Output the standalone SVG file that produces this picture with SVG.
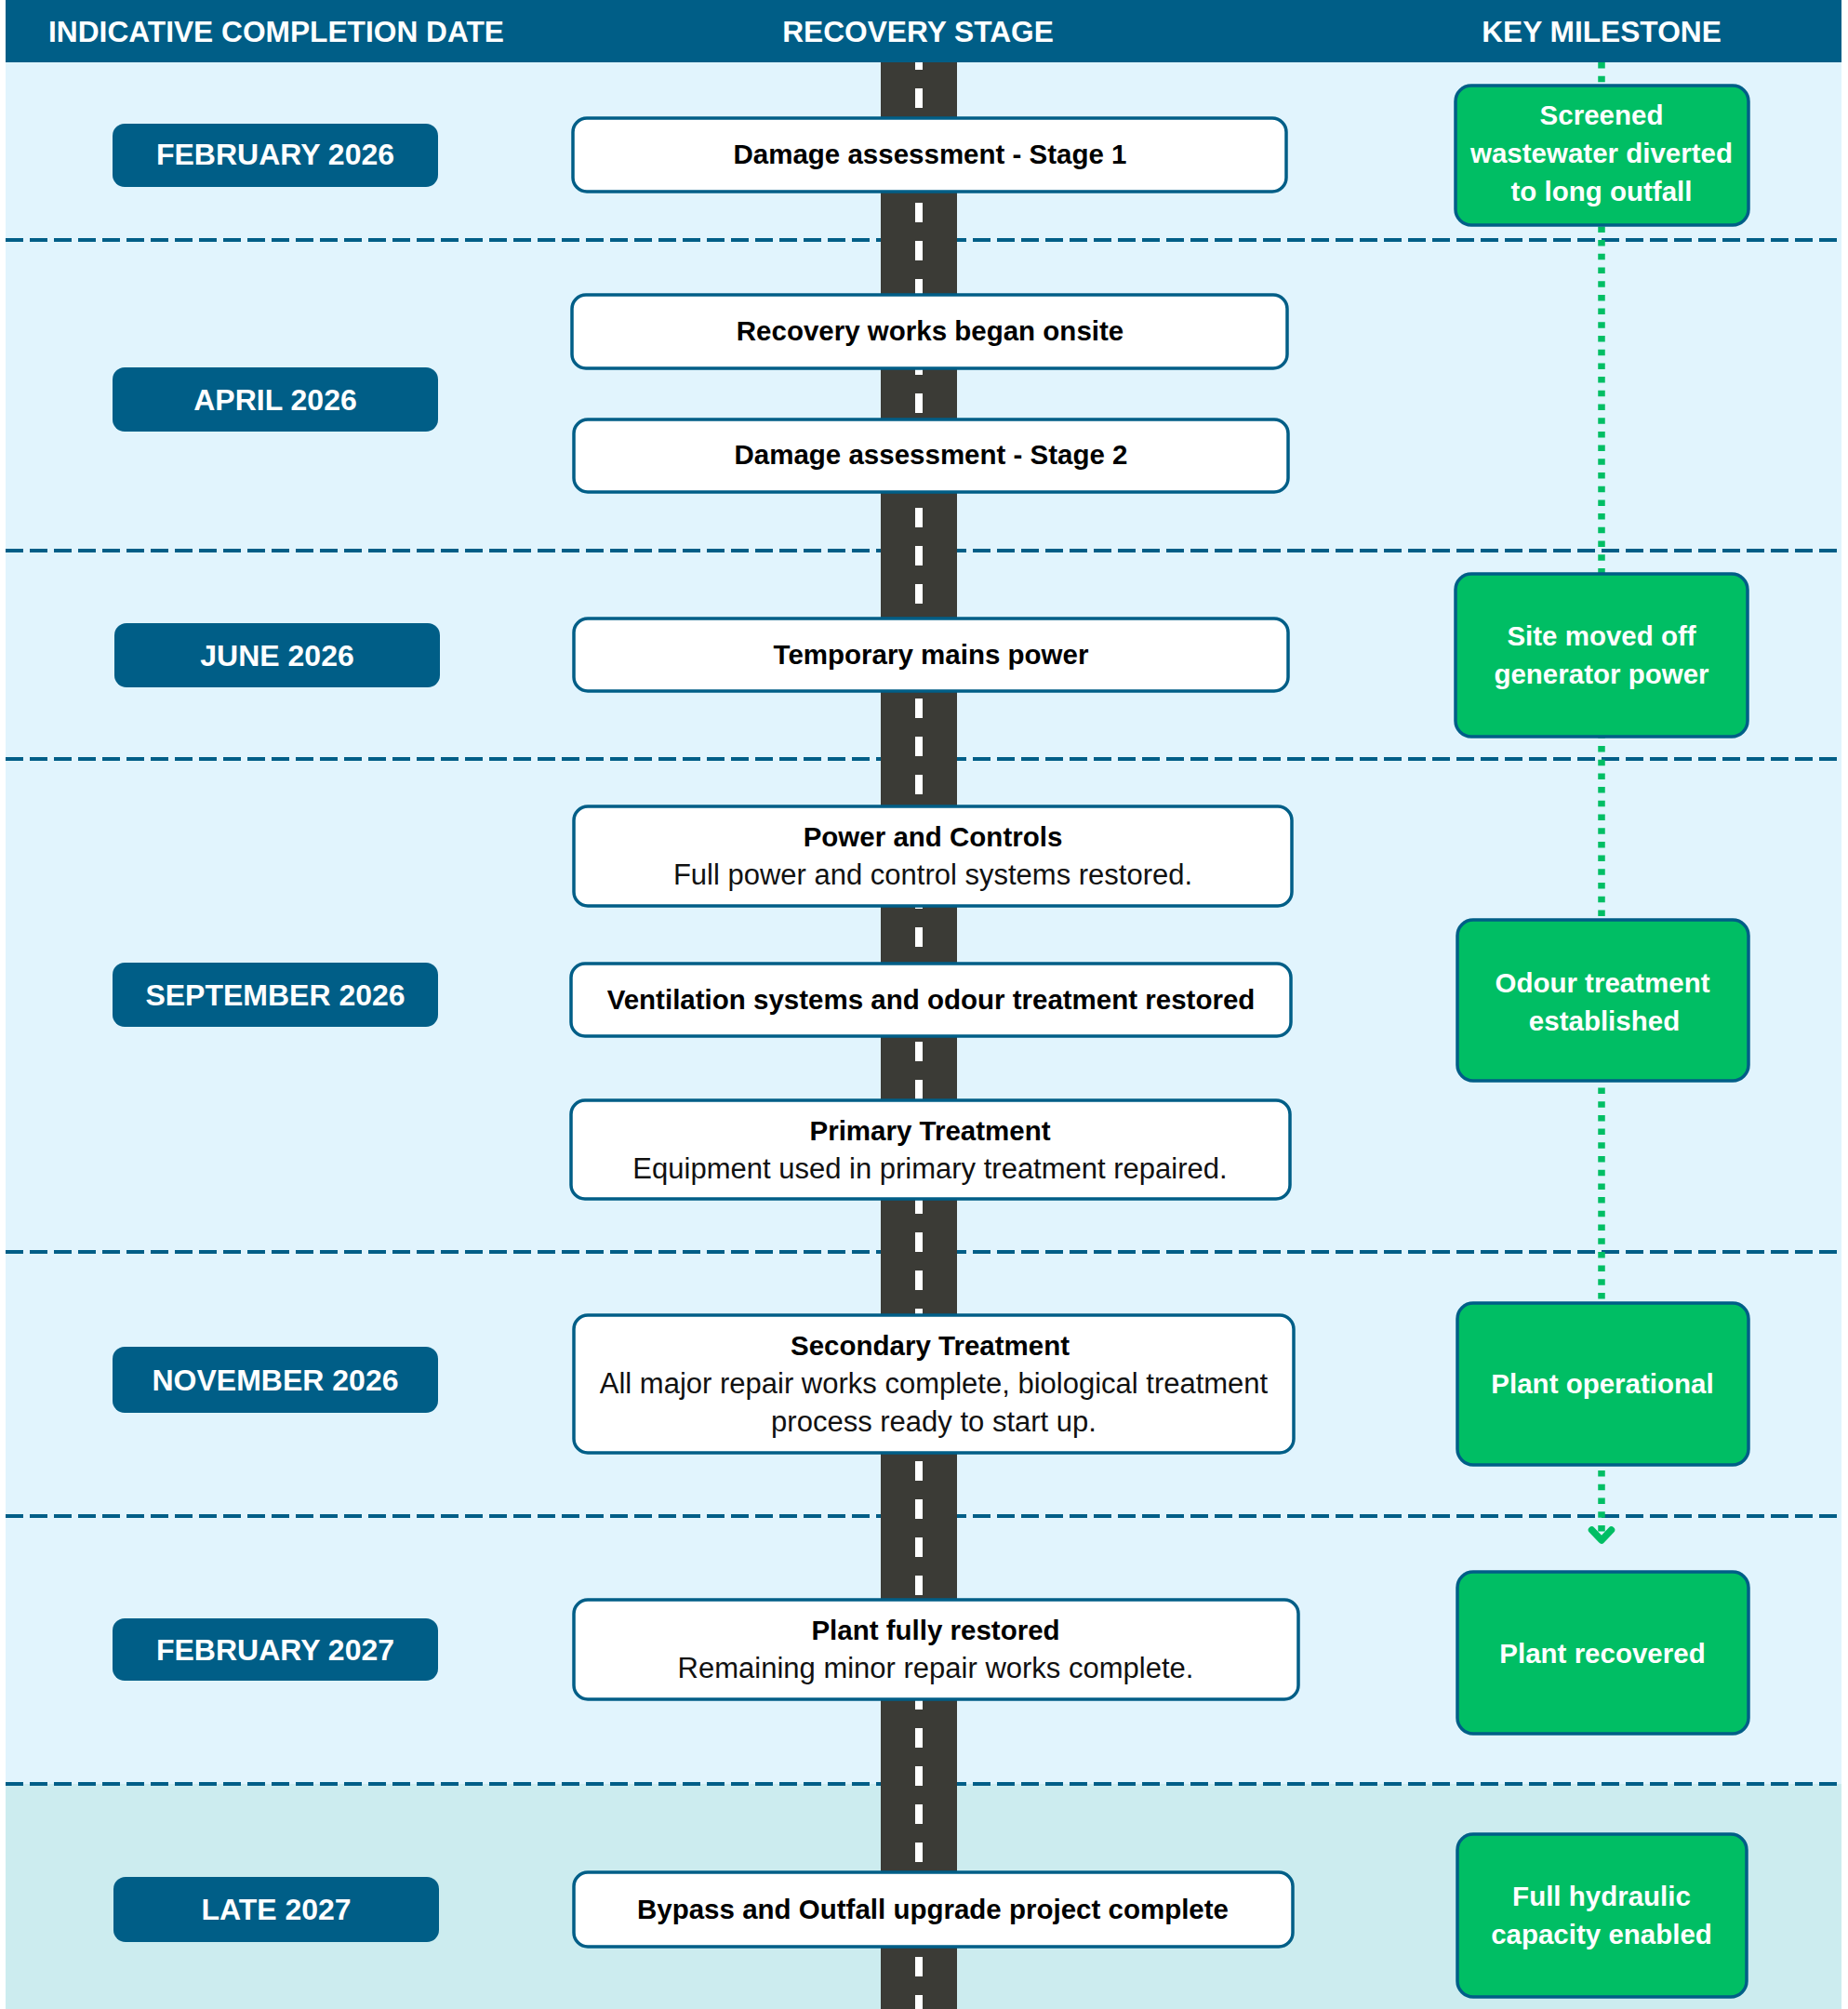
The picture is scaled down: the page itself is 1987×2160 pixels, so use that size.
<svg xmlns="http://www.w3.org/2000/svg" width="1987" height="2160" viewBox="0 0 1987 2160">
<style>
text{font-family:"Liberation Sans",Arial,sans-serif;text-anchor:middle}
.hdr{font-size:31.7px;font-weight:bold;fill:#ffffff}
.pill{fill:#005E87}
.pillt{font-size:32px;font-weight:bold;fill:#ffffff}
.stage{fill:#ffffff;stroke:#005E87;stroke-width:3.5}
.st{font-size:29.5px;font-weight:bold;fill:#000000}
.sr{font-size:31px;fill:#111111}
.ms{fill:#00BE64;stroke:#005E87;stroke-width:3.5}
.mt{font-size:29.5px;font-weight:bold;fill:#ffffff}
.sep{stroke:#005E87;stroke-width:4;stroke-dasharray:19 7}
.dot{stroke:#00BE64;stroke-width:7.5;fill:none}
</style>
<rect x="0" y="0" width="1987" height="2160" fill="#ffffff"/>
<rect x="6" y="0" width="1974" height="1918" fill="#E1F4FD"/>
<rect x="6" y="1918" width="1974" height="242" fill="#CCECEF"/>
<g id="header">
<rect x="6" y="0" width="1974" height="67" fill="#005E87"/>
<text class="hdr" x="297" y="45">INDICATIVE COMPLETION DATE</text>
<text class="hdr" x="987" y="45">RECOVERY STAGE</text>
<text class="hdr" x="1722" y="45">KEY MILESTONE</text>
</g>
<g id="separators">
<line class="sep" x1="6" y1="258" x2="1980" y2="258"/>
<line class="sep" x1="6" y1="592" x2="1980" y2="592"/>
<line class="sep" x1="6" y1="816" x2="1980" y2="816"/>
<line class="sep" x1="6" y1="1346" x2="1980" y2="1346"/>
<line class="sep" x1="6" y1="1630" x2="1980" y2="1630"/>
<line class="sep" x1="6" y1="1918" x2="1980" y2="1918"/>
</g>
<g id="road">
<rect x="947" y="67" width="82" height="2093" fill="#3B3B36"/>
<line x1="988" y1="67" x2="988" y2="2160" stroke="#ffffff" stroke-width="8" stroke-dasharray="21 20" stroke-dashoffset="13"/>
</g>
<g id="connectors">
<line class="dot" x1="1722" y1="67" x2="1722" y2="1647" stroke-dasharray="6.5 8.2"/>
<polyline class="dot" points="1711.5,1645 1722,1656 1732.5,1645" stroke-width="7" stroke-linecap="round" stroke-linejoin="round"/>
</g>
<g id="date-feb-2026"><rect class="pill" x="121" y="133" width="350" height="68" rx="13"/><text class="pillt" x="296" y="177">FEBRUARY 2026</text></g>
<g id="date-apr-2026"><rect class="pill" x="121" y="395" width="350" height="69" rx="13"/><text class="pillt" x="296" y="441">APRIL 2026</text></g>
<g id="date-jun-2026"><rect class="pill" x="123" y="670" width="350" height="69" rx="13"/><text class="pillt" x="298" y="716">JUNE 2026</text></g>
<g id="date-sep-2026"><rect class="pill" x="121" y="1035" width="350" height="69" rx="13"/><text class="pillt" x="296" y="1081">SEPTEMBER 2026</text></g>
<g id="date-nov-2026"><rect class="pill" x="121" y="1448" width="350" height="71" rx="13"/><text class="pillt" x="296" y="1495">NOVEMBER 2026</text></g>
<g id="date-feb-2027"><rect class="pill" x="121" y="1740" width="350" height="67" rx="13"/><text class="pillt" x="296" y="1785">FEBRUARY 2027</text></g>
<g id="date-late-2027"><rect class="pill" x="122" y="2018" width="350" height="70" rx="13"/><text class="pillt" x="297" y="2064">LATE 2027</text></g>
<g id="stage-damage-1"><rect class="stage" x="616" y="127" width="767" height="79" rx="15"/><text class="st" x="1000" y="176">Damage assessment - Stage 1</text></g>
<g id="stage-recovery-works"><rect class="stage" x="615" y="317" width="769" height="79" rx="15"/><text class="st" x="1000" y="366">Recovery works began onsite</text></g>
<g id="stage-damage-2"><rect class="stage" x="617" y="451" width="768" height="78" rx="15"/><text class="st" x="1001" y="499">Damage assessment - Stage 2</text></g>
<g id="stage-temp-power"><rect class="stage" x="617" y="665" width="768" height="78" rx="15"/><text class="st" x="1001" y="714">Temporary mains power</text></g>
<g id="stage-power-controls"><rect class="stage" x="617" y="867" width="772" height="107" rx="15"/><text class="st" x="1003" y="910">Power and Controls</text><text class="sr" x="1003" y="951">Full power and control systems restored.</text></g>
<g id="stage-ventilation"><rect class="stage" x="614" y="1036" width="774" height="78" rx="15"/><text class="st" x="1001" y="1085">Ventilation systems and odour treatment restored</text></g>
<g id="stage-primary"><rect class="stage" x="614" y="1183" width="773" height="106" rx="15"/><text class="st" x="1000" y="1226">Primary Treatment</text><text class="sr" x="1000" y="1267">Equipment used in primary treatment repaired.</text></g>
<g id="stage-secondary"><rect class="stage" x="617" y="1414" width="774" height="148" rx="15"/><text class="st" x="1000" y="1457">Secondary Treatment</text><text class="sr" x="1004" y="1498">All major repair works complete, biological treatment</text><text class="sr" x="1004" y="1539">process ready to start up.</text></g>
<g id="stage-plant-restored"><rect class="stage" x="617" y="1720" width="779" height="107" rx="15"/><text class="st" x="1006" y="1763">Plant fully restored</text><text class="sr" x="1006" y="1804">Remaining minor repair works complete.</text></g>
<g id="stage-bypass"><rect class="stage" x="617" y="2013" width="773" height="80" rx="15"/><text class="st" x="1003" y="2063">Bypass and Outfall upgrade project complete</text></g>
<g id="ms-screened"><rect class="ms" x="1565" y="92" width="315" height="150" rx="17"/><text class="mt" x="1722" y="134">Screened</text><text class="mt" x="1722" y="175">wastewater diverted</text><text class="mt" x="1722" y="216">to long outfall</text></g>
<g id="ms-site-moved"><rect class="ms" x="1565" y="617" width="314" height="175" rx="17"/><text class="mt" x="1722" y="694">Site moved off</text><text class="mt" x="1722" y="735">generator power</text></g>
<g id="ms-odour"><rect class="ms" x="1567" y="989" width="313" height="173" rx="17"/><text class="mt" x="1723" y="1067">Odour treatment</text><text class="mt" x="1725" y="1108">established</text></g>
<g id="ms-plant-operational"><rect class="ms" x="1567" y="1401" width="313" height="174" rx="17"/><text class="mt" x="1723" y="1498">Plant operational</text></g>
<g id="ms-plant-recovered"><rect class="ms" x="1567" y="1690" width="313" height="174" rx="17"/><text class="mt" x="1723" y="1788">Plant recovered</text></g>
<g id="ms-full-hydraulic"><rect class="ms" x="1567" y="1972" width="311" height="175" rx="17"/><text class="mt" x="1722" y="2049">Full hydraulic</text><text class="mt" x="1722" y="2090">capacity enabled</text></g>
</svg>
